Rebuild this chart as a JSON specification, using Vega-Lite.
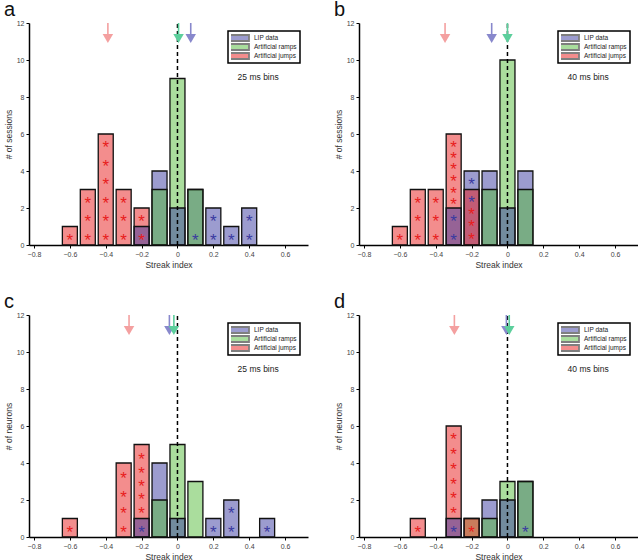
{
  "$schema": "https://vega.github.io/schema/vega-lite/v6.json",
  "padding": {"left": 4, "top": 0, "right": 0, "bottom": 0},
  "background": "white",
  "data": {"values": [{"one": 1}]},
  "datasets": {
    "bars": [
      {"panel": "a", "series": "Artificial ramps", "x": 0, "n": 9},
      {"panel": "a", "series": "Artificial jumps", "x": -0.4, "n": 6},
      {"panel": "a", "series": "LIP data", "x": -0.1, "n": 4},
      {"panel": "a", "series": "Artificial jumps", "x": -0.5, "n": 3},
      {"panel": "a", "series": "Artificial jumps", "x": -0.3, "n": 3},
      {"panel": "a", "series": "LIP data", "x": 0.1, "n": 3},
      {"panel": "a", "series": "Artificial ramps", "x": 0.1, "n": 3},
      {"panel": "a", "series": "Artificial ramps", "x": -0.1, "n": 3},
      {"panel": "a", "series": "LIP data", "x": 0, "n": 2},
      {"panel": "a", "series": "LIP data", "x": 0.2, "n": 2},
      {"panel": "a", "series": "LIP data", "x": 0.4, "n": 2},
      {"panel": "a", "series": "Artificial jumps", "x": -0.2, "n": 2},
      {"panel": "a", "series": "LIP data", "x": -0.2, "n": 1},
      {"panel": "a", "series": "LIP data", "x": 0.3, "n": 1},
      {"panel": "a", "series": "Artificial jumps", "x": -0.6, "n": 1},
      {"panel": "b", "series": "Artificial ramps", "x": 0, "n": 10},
      {"panel": "b", "series": "Artificial jumps", "x": -0.3, "n": 6},
      {"panel": "b", "series": "LIP data", "x": -0.2, "n": 4},
      {"panel": "b", "series": "LIP data", "x": -0.1, "n": 4},
      {"panel": "b", "series": "LIP data", "x": 0.1, "n": 4},
      {"panel": "b", "series": "Artificial jumps", "x": -0.5, "n": 3},
      {"panel": "b", "series": "Artificial jumps", "x": -0.4, "n": 3},
      {"panel": "b", "series": "Artificial jumps", "x": -0.2, "n": 3},
      {"panel": "b", "series": "Artificial ramps", "x": -0.1, "n": 3},
      {"panel": "b", "series": "Artificial ramps", "x": 0.1, "n": 3},
      {"panel": "b", "series": "LIP data", "x": -0.3, "n": 2},
      {"panel": "b", "series": "LIP data", "x": 0, "n": 2},
      {"panel": "b", "series": "Artificial jumps", "x": -0.6, "n": 1},
      {"panel": "c", "series": "Artificial jumps", "x": -0.2, "n": 5},
      {"panel": "c", "series": "Artificial ramps", "x": 0, "n": 5},
      {"panel": "c", "series": "Artificial jumps", "x": -0.3, "n": 4},
      {"panel": "c", "series": "LIP data", "x": -0.1, "n": 4},
      {"panel": "c", "series": "Artificial ramps", "x": 0.1, "n": 3},
      {"panel": "c", "series": "Artificial ramps", "x": -0.1, "n": 2},
      {"panel": "c", "series": "LIP data", "x": 0.3, "n": 2},
      {"panel": "c", "series": "LIP data", "x": -0.2, "n": 1},
      {"panel": "c", "series": "LIP data", "x": 0, "n": 1},
      {"panel": "c", "series": "LIP data", "x": 0.2, "n": 1},
      {"panel": "c", "series": "LIP data", "x": 0.5, "n": 1},
      {"panel": "c", "series": "Artificial jumps", "x": -0.6, "n": 1},
      {"panel": "d", "series": "Artificial jumps", "x": -0.3, "n": 6},
      {"panel": "d", "series": "LIP data", "x": 0.1, "n": 3},
      {"panel": "d", "series": "Artificial ramps", "x": 0.1, "n": 3},
      {"panel": "d", "series": "Artificial ramps", "x": 0, "n": 3},
      {"panel": "d", "series": "LIP data", "x": -0.1, "n": 2},
      {"panel": "d", "series": "LIP data", "x": 0, "n": 2},
      {"panel": "d", "series": "Artificial ramps", "x": -0.1, "n": 1},
      {"panel": "d", "series": "Artificial ramps", "x": -0.2, "n": 1},
      {"panel": "d", "series": "Artificial jumps", "x": -0.2, "n": 1},
      {"panel": "d", "series": "LIP data", "x": -0.3, "n": 1},
      {"panel": "d", "series": "Artificial jumps", "x": -0.5, "n": 1}
    ],
    "stars": [
      {"panel": "a", "series": "Artificial jumps", "x": -0.6, "y": 0.5},
      {"panel": "a", "series": "Artificial jumps", "x": -0.5, "y": 0.5},
      {"panel": "a", "series": "Artificial jumps", "x": -0.5, "y": 1.5},
      {"panel": "a", "series": "Artificial jumps", "x": -0.5, "y": 2.5},
      {"panel": "a", "series": "Artificial jumps", "x": -0.4, "y": 0.5},
      {"panel": "a", "series": "Artificial jumps", "x": -0.4, "y": 1.5},
      {"panel": "a", "series": "Artificial jumps", "x": -0.4, "y": 2.5},
      {"panel": "a", "series": "Artificial jumps", "x": -0.4, "y": 3.5},
      {"panel": "a", "series": "Artificial jumps", "x": -0.4, "y": 4.5},
      {"panel": "a", "series": "Artificial jumps", "x": -0.4, "y": 5.5},
      {"panel": "a", "series": "Artificial jumps", "x": -0.3, "y": 0.5},
      {"panel": "a", "series": "Artificial jumps", "x": -0.3, "y": 1.5},
      {"panel": "a", "series": "Artificial jumps", "x": -0.3, "y": 2.5},
      {"panel": "a", "series": "Artificial jumps", "x": -0.2, "y": 0.5},
      {"panel": "a", "series": "Artificial jumps", "x": -0.2, "y": 1.5},
      {"panel": "a", "series": "LIP data", "x": 0.1, "y": 0.5},
      {"panel": "a", "series": "LIP data", "x": 0.2, "y": 0.5},
      {"panel": "a", "series": "LIP data", "x": 0.2, "y": 1.5},
      {"panel": "a", "series": "LIP data", "x": 0.3, "y": 0.5},
      {"panel": "a", "series": "LIP data", "x": 0.4, "y": 0.5},
      {"panel": "a", "series": "LIP data", "x": 0.4, "y": 1.5},
      {"panel": "b", "series": "Artificial jumps", "x": -0.6, "y": 0.5},
      {"panel": "b", "series": "Artificial jumps", "x": -0.5, "y": 0.5},
      {"panel": "b", "series": "Artificial jumps", "x": -0.5, "y": 1.5},
      {"panel": "b", "series": "Artificial jumps", "x": -0.5, "y": 2.5},
      {"panel": "b", "series": "Artificial jumps", "x": -0.4, "y": 0.5},
      {"panel": "b", "series": "Artificial jumps", "x": -0.4, "y": 1.5},
      {"panel": "b", "series": "Artificial jumps", "x": -0.4, "y": 2.5},
      {"panel": "b", "series": "Artificial jumps", "x": -0.3, "y": 2.45},
      {"panel": "b", "series": "Artificial jumps", "x": -0.3, "y": 3.05},
      {"panel": "b", "series": "Artificial jumps", "x": -0.3, "y": 3.7},
      {"panel": "b", "series": "Artificial jumps", "x": -0.3, "y": 4.3},
      {"panel": "b", "series": "Artificial jumps", "x": -0.3, "y": 4.9},
      {"panel": "b", "series": "Artificial jumps", "x": -0.3, "y": 5.5},
      {"panel": "b", "series": "Artificial jumps", "x": -0.2, "y": 0.55},
      {"panel": "b", "series": "Artificial jumps", "x": -0.2, "y": 1.25},
      {"panel": "b", "series": "Artificial jumps", "x": -0.2, "y": 1.9},
      {"panel": "b", "series": "LIP data", "x": -0.3, "y": 0.5},
      {"panel": "b", "series": "LIP data", "x": -0.3, "y": 1.5},
      {"panel": "b", "series": "LIP data", "x": -0.2, "y": 2.55},
      {"panel": "b", "series": "LIP data", "x": -0.2, "y": 3.5},
      {"panel": "c", "series": "Artificial jumps", "x": -0.6, "y": 0.5},
      {"panel": "c", "series": "Artificial jumps", "x": -0.3, "y": 0.5},
      {"panel": "c", "series": "Artificial jumps", "x": -0.3, "y": 1.5},
      {"panel": "c", "series": "Artificial jumps", "x": -0.3, "y": 2.4},
      {"panel": "c", "series": "Artificial jumps", "x": -0.3, "y": 3.4},
      {"panel": "c", "series": "Artificial jumps", "x": -0.2, "y": 1.5},
      {"panel": "c", "series": "Artificial jumps", "x": -0.2, "y": 2.25},
      {"panel": "c", "series": "Artificial jumps", "x": -0.2, "y": 3.0},
      {"panel": "c", "series": "Artificial jumps", "x": -0.2, "y": 3.7},
      {"panel": "c", "series": "Artificial jumps", "x": -0.2, "y": 4.45},
      {"panel": "c", "series": "LIP data", "x": -0.2, "y": 0.5},
      {"panel": "c", "series": "LIP data", "x": 0.2, "y": 0.5},
      {"panel": "c", "series": "LIP data", "x": 0.3, "y": 0.5},
      {"panel": "c", "series": "LIP data", "x": 0.3, "y": 1.5},
      {"panel": "c", "series": "LIP data", "x": 0.5, "y": 0.5},
      {"panel": "d", "series": "Artificial jumps", "x": -0.5, "y": 0.5},
      {"panel": "d", "series": "Artificial jumps", "x": -0.3, "y": 1.53},
      {"panel": "d", "series": "Artificial jumps", "x": -0.3, "y": 2.3},
      {"panel": "d", "series": "Artificial jumps", "x": -0.3, "y": 3.1},
      {"panel": "d", "series": "Artificial jumps", "x": -0.3, "y": 3.9},
      {"panel": "d", "series": "Artificial jumps", "x": -0.3, "y": 4.7},
      {"panel": "d", "series": "Artificial jumps", "x": -0.3, "y": 5.5},
      {"panel": "d", "series": "Artificial jumps", "x": -0.2, "y": 0.5},
      {"panel": "d", "series": "LIP data", "x": -0.3, "y": 0.5},
      {"panel": "d", "series": "LIP data", "x": 0.1, "y": 0.5}
    ],
    "arrows": [
      {"panel": "a", "series": "Artificial jumps", "x": -0.388},
      {"panel": "a", "series": "LIP data", "x": 0.074},
      {"panel": "a", "series": "Artificial ramps", "x": 0.006},
      {"panel": "b", "series": "Artificial jumps", "x": -0.348},
      {"panel": "b", "series": "LIP data", "x": -0.088},
      {"panel": "b", "series": "Artificial ramps", "x": 0.0},
      {"panel": "c", "series": "Artificial jumps", "x": -0.27},
      {"panel": "c", "series": "LIP data", "x": -0.045},
      {"panel": "c", "series": "Artificial ramps", "x": -0.02},
      {"panel": "d", "series": "Artificial jumps", "x": -0.296},
      {"panel": "d", "series": "LIP data", "x": -0.006},
      {"panel": "d", "series": "Artificial ramps", "x": 0.01}
    ]
  },
  "columns": 2,
  "spacing": {"row": 23, "column": 26},
  "resolve": {"scale": {"color": "independent"}, "legend": {"color": "independent"}},
  "concat": [
    {
      "title": {"text": "a"},
      "width": 279, "height": 222,
      "layer": [
        {"data": {"name": "bars"}, "transform": [{"filter": "datum.panel == 'a'"}],
         "mark": {"type": "bar", "size": 15, "fillOpacity": 0.5, "stroke": "#111111", "strokeWidth": 1.3},
         "encoding": {
           "x": {"field": "x", "type": "quantitative", "scale": {"domain": [-0.8, 0.7], "nice": false, "zero": false}, "axis": {"title": "Streak index", "tickCount": 8, "format": ".1~f", "labelOverlap": false, "labelFlush": false, "labelSeparation": 0}},
           "y": {"field": "n", "type": "quantitative", "stack": null, "scale": {"domain": [0, 12], "nice": false}, "axis": {"title": "# of sessions", "tickCount": 7, "labelOverlap": false, "labelSeparation": 0}},
           "color": {"field": "series", "type": "nominal", "scale": {"domain": ["LIP data", "Artificial ramps", "Artificial jumps"], "range": ["#3a3aa0", "#55bb3c", "#e81c1c"]},
             "legend": {"title": null, "orient": "top-right", "offset": 8, "padding": 3, "fillColor": "white", "strokeColor": "black", "labelFontSize": 6.5, "labelColor": "#222222", "symbolType": "M-2,-0.6H2V0.6H-2Z", "symbolSize": 100, "symbolOffset": 2, "labelOffset": 9, "rowPadding": 1, "clipHeight": 8, "symbolOpacity": 0.5, "symbolStrokeColor": "black", "symbolStrokeWidth": 1.8}}
         }},
        {"data": {"name": "stars"}, "transform": [{"filter": "datum.panel == 'a'"}],
         "mark": {"type": "text", "text": "*", "fontSize": 17, "baseline": "middle", "dy": 5},
         "encoding": {"x": {"field": "x", "type": "quantitative"}, "y": {"field": "y", "type": "quantitative"}, "color": {"field": "series", "type": "nominal", "legend": null}}},
        {"mark": {"type": "rule", "strokeDash": [4, 3], "color": "black", "strokeWidth": 1.5},
         "encoding": {"x": {"datum": 0}, "y": {"datum": 0}, "y2": {"datum": 12}}},
        {"data": {"name": "arrows"}, "transform": [{"filter": "datum.panel == 'a'"}],
         "mark": {"type": "rule", "strokeWidth": 1.6},
         "encoding": {"x": {"field": "x", "type": "quantitative"}, "y": {"datum": 12}, "y2": {"datum": 11.4},
           "stroke": {"field": "series", "type": "nominal", "scale": {"domain": ["LIP data", "Artificial ramps", "Artificial jumps"], "range": ["#8888cc", "#5ccf9c", "#f4a0a0"]}, "legend": null}}},
        {"data": {"name": "arrows"}, "transform": [{"filter": "datum.panel == 'a'"}],
         "mark": {"type": "point", "shape": "triangle-down", "size": 110, "filled": true, "opacity": 1},
         "encoding": {"x": {"field": "x", "type": "quantitative"}, "y": {"datum": 11.16},
           "fill": {"field": "series", "type": "nominal", "scale": {"domain": ["LIP data", "Artificial ramps", "Artificial jumps"], "range": ["#8888cc", "#5ccf9c", "#f4a0a0"]}, "legend": null}}},
        {"mark": {"type": "text", "text": "25 ms bins", "fontSize": 8.5, "color": "#222222"},
         "encoding": {"x": {"datum": 0.45}, "y": {"datum": 9.1}}}
      ]
    },
    {
      "title": {"text": "b"},
      "width": 279, "height": 222,
      "layer": [
        {"data": {"name": "bars"}, "transform": [{"filter": "datum.panel == 'b'"}],
         "mark": {"type": "bar", "size": 15, "fillOpacity": 0.5, "stroke": "#111111", "strokeWidth": 1.3},
         "encoding": {
           "x": {"field": "x", "type": "quantitative", "scale": {"domain": [-0.8, 0.7], "nice": false, "zero": false}, "axis": {"title": "Streak index", "tickCount": 8, "format": ".1~f", "labelOverlap": false, "labelFlush": false, "labelSeparation": 0}},
           "y": {"field": "n", "type": "quantitative", "stack": null, "scale": {"domain": [0, 12], "nice": false}, "axis": {"title": "# of sessions", "tickCount": 7, "labelOverlap": false, "labelSeparation": 0}},
           "color": {"field": "series", "type": "nominal", "scale": {"domain": ["LIP data", "Artificial ramps", "Artificial jumps"], "range": ["#3a3aa0", "#55bb3c", "#e81c1c"]},
             "legend": {"title": null, "orient": "top-right", "offset": 8, "padding": 3, "fillColor": "white", "strokeColor": "black", "labelFontSize": 6.5, "labelColor": "#222222", "symbolType": "M-2,-0.6H2V0.6H-2Z", "symbolSize": 100, "symbolOffset": 2, "labelOffset": 9, "rowPadding": 1, "clipHeight": 8, "symbolOpacity": 0.5, "symbolStrokeColor": "black", "symbolStrokeWidth": 1.8}}
         }},
        {"data": {"name": "stars"}, "transform": [{"filter": "datum.panel == 'b'"}],
         "mark": {"type": "text", "text": "*", "fontSize": 17, "baseline": "middle", "dy": 5},
         "encoding": {"x": {"field": "x", "type": "quantitative"}, "y": {"field": "y", "type": "quantitative"}, "color": {"field": "series", "type": "nominal", "legend": null}}},
        {"mark": {"type": "rule", "strokeDash": [4, 3], "color": "black", "strokeWidth": 1.5},
         "encoding": {"x": {"datum": 0}, "y": {"datum": 0}, "y2": {"datum": 12}}},
        {"data": {"name": "arrows"}, "transform": [{"filter": "datum.panel == 'b'"}],
         "mark": {"type": "rule", "strokeWidth": 1.6},
         "encoding": {"x": {"field": "x", "type": "quantitative"}, "y": {"datum": 12}, "y2": {"datum": 11.4},
           "stroke": {"field": "series", "type": "nominal", "scale": {"domain": ["LIP data", "Artificial ramps", "Artificial jumps"], "range": ["#8888cc", "#5ccf9c", "#f4a0a0"]}, "legend": null}}},
        {"data": {"name": "arrows"}, "transform": [{"filter": "datum.panel == 'b'"}],
         "mark": {"type": "point", "shape": "triangle-down", "size": 110, "filled": true, "opacity": 1},
         "encoding": {"x": {"field": "x", "type": "quantitative"}, "y": {"datum": 11.16},
           "fill": {"field": "series", "type": "nominal", "scale": {"domain": ["LIP data", "Artificial ramps", "Artificial jumps"], "range": ["#8888cc", "#5ccf9c", "#f4a0a0"]}, "legend": null}}},
        {"mark": {"type": "text", "text": "40 ms bins", "fontSize": 8.5, "color": "#222222"},
         "encoding": {"x": {"datum": 0.45}, "y": {"datum": 9.1}}}
      ]
    },
    {
      "title": {"text": "c"},
      "width": 279, "height": 222,
      "layer": [
        {"data": {"name": "bars"}, "transform": [{"filter": "datum.panel == 'c'"}],
         "mark": {"type": "bar", "size": 15, "fillOpacity": 0.5, "stroke": "#111111", "strokeWidth": 1.3},
         "encoding": {
           "x": {"field": "x", "type": "quantitative", "scale": {"domain": [-0.8, 0.7], "nice": false, "zero": false}, "axis": {"title": "Streak index", "tickCount": 8, "format": ".1~f", "labelOverlap": false, "labelFlush": false, "labelSeparation": 0}},
           "y": {"field": "n", "type": "quantitative", "stack": null, "scale": {"domain": [0, 12], "nice": false}, "axis": {"title": "# of neurons", "tickCount": 7, "labelOverlap": false, "labelSeparation": 0}},
           "color": {"field": "series", "type": "nominal", "scale": {"domain": ["LIP data", "Artificial ramps", "Artificial jumps"], "range": ["#3a3aa0", "#55bb3c", "#e81c1c"]},
             "legend": {"title": null, "orient": "top-right", "offset": 8, "padding": 3, "fillColor": "white", "strokeColor": "black", "labelFontSize": 6.5, "labelColor": "#222222", "symbolType": "M-2,-0.6H2V0.6H-2Z", "symbolSize": 100, "symbolOffset": 2, "labelOffset": 9, "rowPadding": 1, "clipHeight": 8, "symbolOpacity": 0.5, "symbolStrokeColor": "black", "symbolStrokeWidth": 1.8}}
         }},
        {"data": {"name": "stars"}, "transform": [{"filter": "datum.panel == 'c'"}],
         "mark": {"type": "text", "text": "*", "fontSize": 17, "baseline": "middle", "dy": 5},
         "encoding": {"x": {"field": "x", "type": "quantitative"}, "y": {"field": "y", "type": "quantitative"}, "color": {"field": "series", "type": "nominal", "legend": null}}},
        {"mark": {"type": "rule", "strokeDash": [4, 3], "color": "black", "strokeWidth": 1.5},
         "encoding": {"x": {"datum": 0}, "y": {"datum": 0}, "y2": {"datum": 12}}},
        {"data": {"name": "arrows"}, "transform": [{"filter": "datum.panel == 'c'"}],
         "mark": {"type": "rule", "strokeWidth": 1.6},
         "encoding": {"x": {"field": "x", "type": "quantitative"}, "y": {"datum": 12}, "y2": {"datum": 11.4},
           "stroke": {"field": "series", "type": "nominal", "scale": {"domain": ["LIP data", "Artificial ramps", "Artificial jumps"], "range": ["#8888cc", "#5ccf9c", "#f4a0a0"]}, "legend": null}}},
        {"data": {"name": "arrows"}, "transform": [{"filter": "datum.panel == 'c'"}],
         "mark": {"type": "point", "shape": "triangle-down", "size": 110, "filled": true, "opacity": 1},
         "encoding": {"x": {"field": "x", "type": "quantitative"}, "y": {"datum": 11.16},
           "fill": {"field": "series", "type": "nominal", "scale": {"domain": ["LIP data", "Artificial ramps", "Artificial jumps"], "range": ["#8888cc", "#5ccf9c", "#f4a0a0"]}, "legend": null}}},
        {"mark": {"type": "text", "text": "25 ms bins", "fontSize": 8.5, "color": "#222222"},
         "encoding": {"x": {"datum": 0.45}, "y": {"datum": 9.1}}}
      ]
    },
    {
      "title": {"text": "d"},
      "width": 279, "height": 222,
      "layer": [
        {"data": {"name": "bars"}, "transform": [{"filter": "datum.panel == 'd'"}],
         "mark": {"type": "bar", "size": 15, "fillOpacity": 0.5, "stroke": "#111111", "strokeWidth": 1.3},
         "encoding": {
           "x": {"field": "x", "type": "quantitative", "scale": {"domain": [-0.8, 0.7], "nice": false, "zero": false}, "axis": {"title": "Streak index", "tickCount": 8, "format": ".1~f", "labelOverlap": false, "labelFlush": false, "labelSeparation": 0}},
           "y": {"field": "n", "type": "quantitative", "stack": null, "scale": {"domain": [0, 12], "nice": false}, "axis": {"title": "# of neurons", "tickCount": 7, "labelOverlap": false, "labelSeparation": 0}},
           "color": {"field": "series", "type": "nominal", "scale": {"domain": ["LIP data", "Artificial ramps", "Artificial jumps"], "range": ["#3a3aa0", "#55bb3c", "#e81c1c"]},
             "legend": {"title": null, "orient": "top-right", "offset": 8, "padding": 3, "fillColor": "white", "strokeColor": "black", "labelFontSize": 6.5, "labelColor": "#222222", "symbolType": "M-2,-0.6H2V0.6H-2Z", "symbolSize": 100, "symbolOffset": 2, "labelOffset": 9, "rowPadding": 1, "clipHeight": 8, "symbolOpacity": 0.5, "symbolStrokeColor": "black", "symbolStrokeWidth": 1.8}}
         }},
        {"data": {"name": "stars"}, "transform": [{"filter": "datum.panel == 'd'"}],
         "mark": {"type": "text", "text": "*", "fontSize": 17, "baseline": "middle", "dy": 5},
         "encoding": {"x": {"field": "x", "type": "quantitative"}, "y": {"field": "y", "type": "quantitative"}, "color": {"field": "series", "type": "nominal", "legend": null}}},
        {"mark": {"type": "rule", "strokeDash": [4, 3], "color": "black", "strokeWidth": 1.5},
         "encoding": {"x": {"datum": 0}, "y": {"datum": 0}, "y2": {"datum": 12}}},
        {"data": {"name": "arrows"}, "transform": [{"filter": "datum.panel == 'd'"}],
         "mark": {"type": "rule", "strokeWidth": 1.6},
         "encoding": {"x": {"field": "x", "type": "quantitative"}, "y": {"datum": 12}, "y2": {"datum": 11.4},
           "stroke": {"field": "series", "type": "nominal", "scale": {"domain": ["LIP data", "Artificial ramps", "Artificial jumps"], "range": ["#8888cc", "#5ccf9c", "#f4a0a0"]}, "legend": null}}},
        {"data": {"name": "arrows"}, "transform": [{"filter": "datum.panel == 'd'"}],
         "mark": {"type": "point", "shape": "triangle-down", "size": 110, "filled": true, "opacity": 1},
         "encoding": {"x": {"field": "x", "type": "quantitative"}, "y": {"datum": 11.16},
           "fill": {"field": "series", "type": "nominal", "scale": {"domain": ["LIP data", "Artificial ramps", "Artificial jumps"], "range": ["#8888cc", "#5ccf9c", "#f4a0a0"]}, "legend": null}}},
        {"mark": {"type": "text", "text": "40 ms bins", "fontSize": 8.5, "color": "#222222"},
         "encoding": {"x": {"datum": 0.45}, "y": {"datum": 9.1}}}
      ]
    }
  ],
  "config": {
    "font": "Liberation Sans",
    "view": {"stroke": null},
    "title": {"anchor": "start", "frame": "bounds", "fontSize": 20, "fontWeight": "normal", "color": "#111111", "offset": -1},
    "axis": {"grid": false, "domainColor": "black", "domainWidth": 1.5, "tickColor": "black", "tickSize": 3, "tickWidth": 1, "labelFontSize": 7, "labelColor": "#444444", "labelPadding": 2, "labelOverlap": false, "labelFlush": false, "titleFontSize": 8.5, "titleFontWeight": "normal", "titleColor": "#333333", "titlePadding": 3},
    "axisY": {"minExtent": 13, "maxExtent": 13},
    "legend": {"strokeWidth": 1.5}
  }
}
